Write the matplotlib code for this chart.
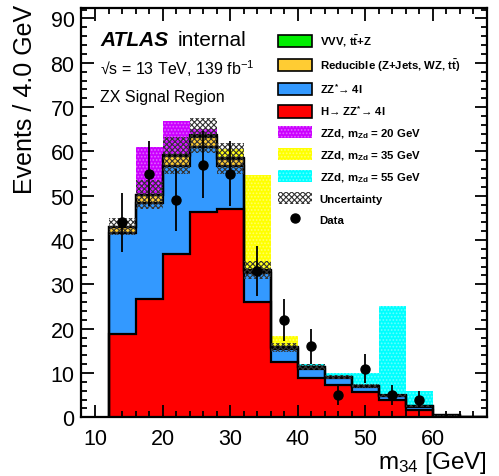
import numpy as np
import matplotlib
matplotlib.use('Agg')
from matplotlib import pyplot as plt
from matplotlib.patches import Patch
from matplotlib.lines import Line2D
from matplotlib.ticker import MultipleLocator

plt.rcParams['font.family'] = ['Liberation Sans', 'DejaVu Sans']
plt.rcParams['mathtext.default'] = 'regular'
plt.rcParams['hatch.linewidth'] = 0.8

# 4 GeV bins from 12 to 68
EDGES = np.arange(12, 72, 4)

HIGGS = np.array([18.8, 26.7, 36.8, 46.4, 47.0, 26.0, 12.4, 8.9, 7.2, 5.8, 3.9, 1.7, 0.0, 0.0])
ZZ = np.array([22.9, 21.6, 19.8, 14.7, 9.7, 6.5, 2.9, 2.1, 1.6, 1.1, 0.9, 0.7, 0.35, 0.0])
REDUCIBLE = np.array([1.2, 1.8, 2.3, 2.2, 1.6, 0.6, 0.4, 0.3, 0.2, 0.15, 0.1, 0.1, 0.1, 0.0])
VVV = np.array([0.1, 0.15, 0.2, 0.3, 0.2, 0.1, 0.05, 0.05, 0.05, 0.03, 0.02, 0.02, 0.0, 0.0])
UNC = np.array([1.9, 3.2, 4.1, 4.0, 3.5, 2.0, 1.0, 0.7, 0.5, 0.4, 0.35, 0.3, 0.1, 0.0])

SIG20 = np.array([0.0, 10.7, 7.7, 1.5, 0.0, 0.0, 0.0, 0.0, 0.0, 0.0, 0.0, 0.0, 0.0, 0.0])
SIG35 = np.array([0.0, 0.0, 0.0, 0.0, 2.0, 21.5, 2.7, 0.0, 0.0, 0.0, 0.0, 0.0, 0.0, 0.0])
SIG55 = np.array([0.0, 0.0, 0.0, 0.0, 0.0, 0.0, 0.0, 0.7, 0.9, 2.95, 20.1, 3.3, 0.0, 0.0])

DATA = np.array([44, 55, 49, 57, 55, 33, 22, 16, 5, 11, 5, 4])
DATA_ERR = np.array([6.6, 7.4, 7.0, 7.5, 7.4, 5.7, 4.7, 4.0, 2.2, 3.3, 2.2, 2.0])

BKG = [
    ('H→ ZZ$^{*}$→ 4l', HIGGS, '#ff0000'),
    ('ZZ$^{*}$→ 4l', ZZ, '#3399ff'),
    ('Reducible (Z+Jets, WZ, t$\\bar{t}$)', REDUCIBLE, '#ffcc33'),
    ('VVV, t$\\bar{t}$+Z', VVV, '#00ee00'),
]
SIGNALS = [
    ('ZZd, m$_{Zd}$ = 20 GeV', SIG20, '#cc00ff', '#e066ff'),
    ('ZZd, m$_{Zd}$ = 35 GeV', SIG35, '#ffff00', '#ffff66'),
    ('ZZd, m$_{Zd}$ = 55 GeV', SIG55, '#00ffff', '#66ffff'),
]


def main():

    fig = plt.figure(figsize=(4.99, 4.77), dpi=100)
    ax = fig.add_axes([0.1633, 0.1231, 0.8126, 0.8574])

    total = HIGGS + ZZ + REDUCIBLE + VVV

    # signals stacked on top of the total background, drawn behind it
    for label, sig, col, dots in SIGNALS:
        ax.stairs(total + sig, EDGES, baseline=0, fill=True,
                  facecolor=col, edgecolor=dots, hatch='.....', lw=0)

    base = np.zeros_like(total)
    for label, vals, col in BKG:
        top = base + vals
        ax.stairs(top, EDGES, baseline=base, fill=True, color=col, lw=0)
        base = top
    base = np.zeros_like(total)
    for label, vals, col in BKG:
        base = base + vals
        ax.stairs(base, EDGES, baseline=0, color='k', lw=1.6)

    ax.stairs(total + UNC, EDGES, baseline=total - UNC, fill=True,
              facecolor='none', edgecolor='#333333', hatch='xxxxxx', lw=0)

    centers = EDGES[:len(DATA)] + 2
    ax.errorbar(centers, DATA, yerr=DATA_ERR, fmt='o', color='k', ms=6.5,
                elinewidth=1.3, capsize=0)

    ax.set_xlim(8, 68)
    ax.set_ylim(0, 92.3)
    ax.xaxis.set_major_locator(MultipleLocator(10))
    ax.xaxis.set_minor_locator(MultipleLocator(2))
    ax.yaxis.set_major_locator(MultipleLocator(10))
    ax.yaxis.set_minor_locator(MultipleLocator(2))
    ax.tick_params(which='both', direction='in', top=True, right=True,
                   width=1.3, labelsize=15.5)
    ax.tick_params(which='major', length=9)
    ax.tick_params(which='minor', length=4.5)
    ax.tick_params(axis='x', pad=8)
    ax.tick_params(axis='y', pad=5)
    for sp in ax.spines.values():
        sp.set_linewidth(1.6)

    ax.set_ylabel('Events / 4.0 GeV', fontsize=18, loc='top')
    ax.yaxis.set_label_coords(-0.11, 1.01)
    ax.set_xlabel('m$_{34}$ [GeV]', fontsize=17.5, loc='right')
    ax.xaxis.set_label_coords(1.0, -0.078)

    ax.text(0.046, 0.910, 'ATLAS', transform=ax.transAxes, fontsize=15,
            fontweight='bold', fontstyle='italic', va='baseline')
    ax.text(0.236, 0.910, 'internal', transform=ax.transAxes, fontsize=15,
            va='baseline')
    ax.text(0.046, 0.839, '√s = 13 TeV, 139 fb$^{-1}$', transform=ax.transAxes,
            fontsize=11.5, va='baseline')
    ax.text(0.046, 0.773, 'ZX Signal Region', transform=ax.transAxes,
            fontsize=11.5, va='baseline')

    handles = []
    labels = []
    for label, vals, col in reversed(BKG):
        handles.append(Patch(facecolor=col, edgecolor='k', lw=1.2))
        labels.append(label)
    for label, sig, col, dots in SIGNALS:
        handles.append(Patch(facecolor=col, edgecolor=dots, hatch='.....', lw=0))
        labels.append(label)
    handles.append(Patch(facecolor='white', edgecolor='#333333', hatch='xxxxxx', lw=0))
    labels.append('Uncertainty')
    handles.append(Line2D([], [], marker='o', color='k', ls='none', ms=6.5))
    labels.append('Data')

    ax.legend(handles, labels, loc='upper left', bbox_to_anchor=(0.4846, 0.94),
              frameon=False, prop={'weight': 'bold', 'size': 8.2},
              handlelength=3.0, handleheight=1.3, labelspacing=0.72,
              handletextpad=0.65, borderpad=0, borderaxespad=0)

    fig.savefig('out.png', dpi=100)


if __name__ == '__main__':

    main()
